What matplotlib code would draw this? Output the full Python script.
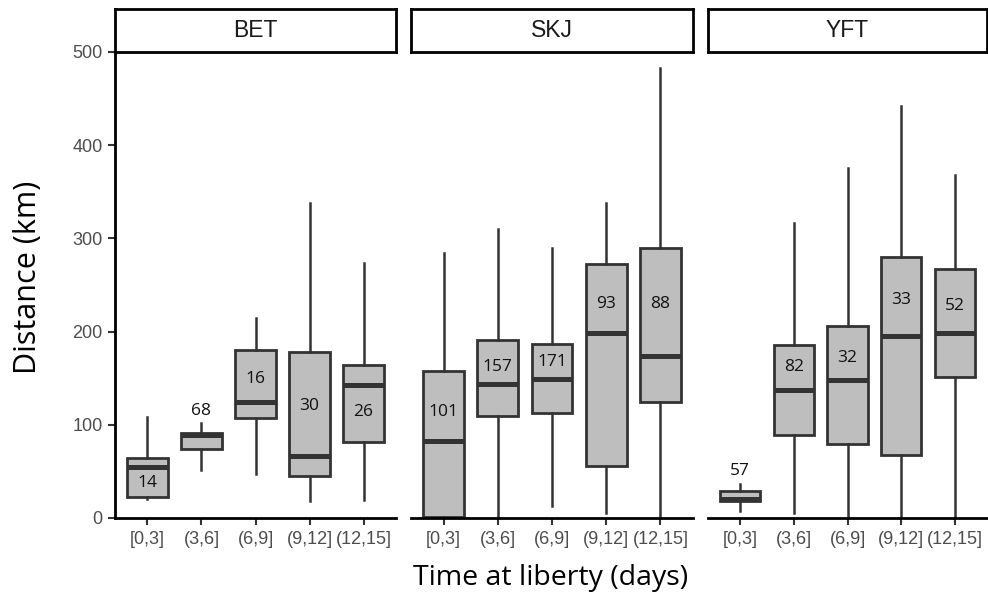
import matplotlib
matplotlib.use("Agg")
import matplotlib.pyplot as plt

# ---- data ----
species = ["BET", "SKJ", "YFT"]
categories = ["[0,3]", "(3,6]", "(6,9]", "(9,12]", "(12,15]"]

# per species: whisker low, Q1, median, Q3, whisker high
BET_whislo = [20, 51, 47, 18, 19]
BET_q1 = [22, 74, 107, 45, 82]
BET_med = [55, 89, 125, 67, 143]
BET_q3 = [64, 91, 180, 178, 164]
BET_whishi = [108, 102, 215, 338, 274]
BET_n = [14, 68, 16, 30, 26]
BET_label_y = [38, 115, 149, 120, 114]

SKJ_whislo = [0, 1, 13, 5, 0]
SKJ_q1 = [1, 109, 113, 56, 124]
SKJ_med = [83, 144, 149, 199, 174]
SKJ_q3 = [158, 191, 187, 273, 290]
SKJ_whishi = [284, 310, 290, 338, 483]
SKJ_n = [101, 157, 171, 93, 88]
SKJ_label_y = [114, 162, 167, 230, 230]

YFT_whislo = [8, 5, 1, 2, 0]
YFT_q1 = [18, 89, 79, 68, 151]
YFT_med = [20, 137, 148, 195, 198]
YFT_q3 = [29, 186, 206, 280, 267]
YFT_whishi = [36, 317, 376, 442, 368]
YFT_n = [57, 82, 32, 33, 52]
YFT_label_y = [50, 162, 172, 234, 228]

yticks = [0, 100, 200, 300, 400, 500]

data = {
    "BET": (BET_whislo, BET_q1, BET_med, BET_q3, BET_whishi, BET_n, BET_label_y),
    "SKJ": (SKJ_whislo, SKJ_q1, SKJ_med, SKJ_q3, SKJ_whishi, SKJ_n, SKJ_label_y),
    "YFT": (YFT_whislo, YFT_q1, YFT_med, YFT_q3, YFT_whishi, YFT_n, YFT_label_y),
}

W, H = 988, 599
fig = plt.figure(figsize=(W / 100, H / 100), dpi=100)

panels_px = [(115, 396), (411, 693), (708, 987)]
top_px, bot_px = 52, 518
strip_top_px = 9

edge = "#333333"
fill = "#bebebe"
tickcol = "#4d4d4d"

for i, (sp, (x0, x1)) in enumerate(zip(species, panels_px)):
    ax = fig.add_axes([x0 / W, 1 - bot_px / H, (x1 - x0) / W, (bot_px - top_px) / H])
    wl, q1, med, q3, wh, n, ly = data[sp]
    stats = []
    for k in range(len(categories)):
        stats.append(dict(whislo=wl[k], q1=q1[k], med=med[k], q3=q3[k], whishi=wh[k], fliers=[]))
    pos = list(range(1, len(categories) + 1))
    ax.bxp(stats, positions=pos, widths=0.75, patch_artist=True, showcaps=False,
           showfliers=False,
           boxprops=dict(facecolor=fill, edgecolor=edge, linewidth=2.0),
           medianprops=dict(color=edge, linewidth=3.6, solid_capstyle="butt"),
           whiskerprops=dict(color=edge, linewidth=1.8))
    for k in range(len(categories)):
        ax.text(pos[k], ly[k], str(n[k]), ha="center", va="center",
                fontsize=12.5, family="Open Sans", color="#111111", zorder=5)
    ax.set_xlim(0.4, 5.6)
    ax.set_ylim(0, 500)
    ax.set_xticks(pos)
    ax.set_xticklabels(categories, fontsize=13, color=tickcol, family="Liberation Sans")
    for s in ["top", "right"]:
        ax.spines[s].set_visible(False)
    ax.spines["bottom"].set_linewidth(2)
    ax.spines["bottom"].set_color("black")
    ax.tick_params(axis="x", length=5, width=1.5, color=edge, pad=4)
    if i == 0:
        ax.spines["left"].set_linewidth(2)
        ax.spines["left"].set_color("black")
        ax.set_yticks(yticks)
        ax.set_yticklabels([str(v) for v in yticks], fontsize=13, color=tickcol,
                           family="Liberation Sans")
        ax.tick_params(axis="y", length=5, width=1.5, color=edge, pad=4)
    else:
        ax.spines["left"].set_visible(False)
        ax.set_yticks([])
    ax.patch.set_alpha(0)
    # strip
    sax = fig.add_axes([x0 / W, 1 - top_px / H, (x1 - x0) / W, (top_px - strip_top_px) / H])
    sax.set_xticks([]); sax.set_yticks([])
    for s in sax.spines.values():
        s.set_linewidth(2)
        s.set_color("black")
    sax.text(0.5, 0.5, sp, ha="center", va="center", fontsize=16.5,
             family="Liberation Sans", color="#1a1a1a", transform=sax.transAxes)

fig.text(28 / W, 1 - 277 / H, "Distance (km)", rotation=90, ha="center",
         va="center", fontsize=22, family="Open Sans", color="black")
fig.text((115 + 987) / 2 / W, 1 - 578 / H, "Time at liberty (days)", ha="center",
         va="center", fontsize=20.5, family="Open Sans", color="black")

fig.savefig("out.png", dpi=100)
